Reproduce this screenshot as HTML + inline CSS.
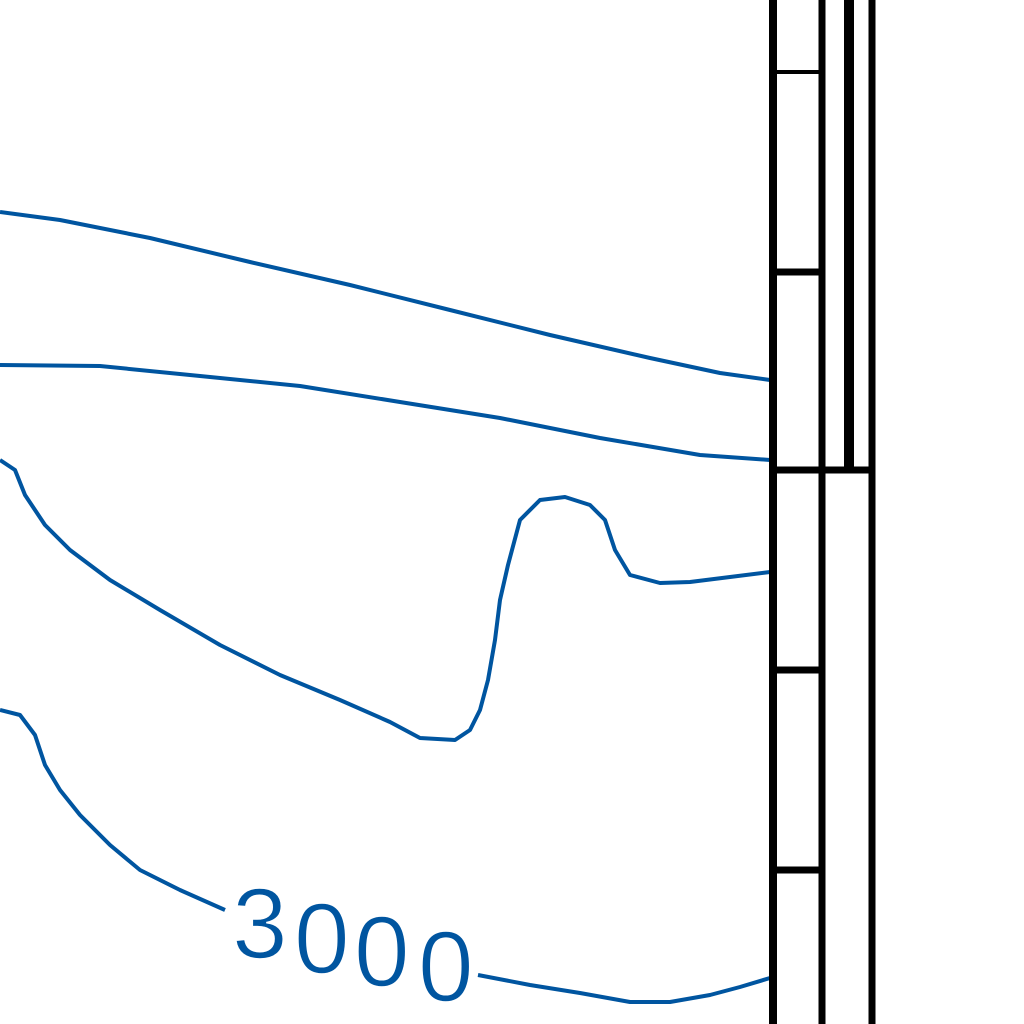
<!DOCTYPE html>
<html><head><meta charset="utf-8"><style>html,body{margin:0;padding:0;background:#fff}svg{display:block}</style></head>
<body>
<svg id="map" width="1024" height="1024" viewBox="0 0 1024 1024" xmlns="http://www.w3.org/2000/svg">
<rect width="1024" height="1024" fill="#fff"/>
<g id="contours" fill="none" stroke="#0055a0" stroke-width="4" stroke-linejoin="round"></g>
<text x="232 294 354 418" y="958 973 986 1001" font-family="Liberation Sans, sans-serif" font-size="100" fill="#0055a0" stroke="#fff" stroke-width="1.5" paint-order="normal">3000</text>
<g stroke="#000" fill="none">
<line x1="773" y1="0" x2="773" y2="1024" stroke-width="8"/>
<line x1="822" y1="0" x2="822" y2="1024" stroke-width="7"/>
<line x1="849" y1="0" x2="849" y2="470" stroke-width="10"/>
<line x1="872" y1="0" x2="872" y2="1024" stroke-width="7"/>
<line x1="773" y1="470" x2="875" y2="470" stroke-width="7"/>
<line x1="773" y1="72" x2="822" y2="72" stroke-width="4"/>
<line x1="773" y1="272" x2="822" y2="272" stroke-width="7"/>
<line x1="773" y1="670" x2="822" y2="670" stroke-width="7"/>
<line x1="773" y1="870" x2="822" y2="870" stroke-width="7"/>
</g>
</svg>
<script>
const contour1 = [[0,212],[60,220],[150,238],[250,262],[350,285],[450,310],[550,335],[650,358],[720,373],[770,380]];
const contour2 = [[0,365],[100,366],[200,376],[300,386],[400,402],[500,418],[600,438],[700,455],[770,460]];
const contour3 = [[0,460],[15,470],[25,495],[45,525],[70,550],[110,580],[160,610],[220,645],[280,675],[340,700],[390,722],[420,738],[455,740],[470,730],[480,710],[488,680],[495,640],[500,600],[508,565],[520,520],[540,500],[565,497],[590,505],[605,520],[615,550],[630,575],[660,583],[690,582],[730,577],[770,572]];
const contour4a = [[0,710],[20,715],[35,735],[45,765],[60,790],[80,815],[110,845],[140,870],[180,890],[225,910]];
const contour4b = [[478,975],[530,985],[580,993],[630,1002],[670,1002],[710,995],[740,987],[770,978]];
const names = ['contour-line-1','contour-line-2','contour-line-3','contour-line-3000-left','contour-line-3000-right'];
const g = document.getElementById('contours');
[contour1,contour2,contour3,contour4a,contour4b].forEach((pts,i)=>{
  const p = document.createElementNS('http://www.w3.org/2000/svg','polyline');
  p.setAttribute('points', pts.map(q=>q.join(',')).join(' '));
  
  
  g.appendChild(p);
});
</script>
</body></html>
